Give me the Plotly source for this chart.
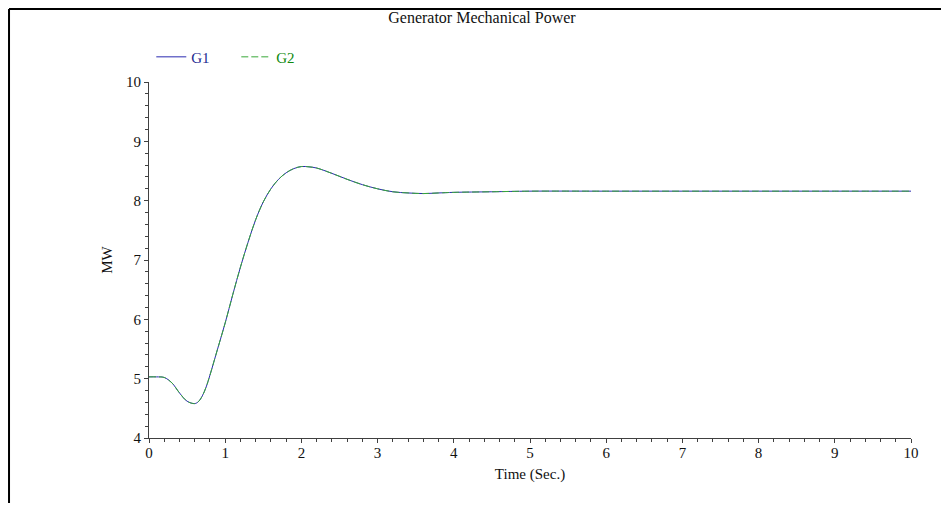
import plotly.graph_objects as go

time_s = [0, 0.1, 0.2, 0.3, 0.4, 0.5, 0.6, 0.65, 0.7, 0.75, 0.8, 0.9, 1.0, 1.1, 1.2, 1.3, 1.4, 1.5,
          1.6, 1.7, 1.8, 1.9, 2.0, 2.1, 2.2, 2.4, 2.6, 2.8, 3.0, 3.2, 3.4, 3.6, 3.8,
          4.0, 4.5, 5, 6, 7, 8, 9, 10]
g1_mw = [5.03, 5.03, 5.02, 4.93, 4.76, 4.62, 4.58, 4.615, 4.71, 4.86, 5.06, 5.50, 5.94, 6.42, 6.88,
         7.30, 7.68, 7.98, 8.20, 8.36, 8.47, 8.54, 8.575, 8.57, 8.55, 8.46, 8.36, 8.27,
         8.20, 8.15, 8.13, 8.12, 8.13, 8.14, 8.15, 8.16, 8.16, 8.16, 8.16, 8.16, 8.16]
g2_mw = [5.03, 5.03, 5.02, 4.93, 4.76, 4.62, 4.58, 4.615, 4.71, 4.86, 5.06, 5.50, 5.94, 6.42, 6.88,
         7.30, 7.68, 7.98, 8.20, 8.36, 8.47, 8.54, 8.575, 8.57, 8.55, 8.46, 8.36, 8.27,
         8.20, 8.15, 8.13, 8.12, 8.13, 8.14, 8.15, 8.16, 8.16, 8.16, 8.16, 8.16, 8.16]

FONT = "Liberation Serif, Times New Roman, serif"

fig = go.Figure()
fig.add_trace(go.Scatter(x=time_s, y=g1_mw, mode="lines",
                         name='<span style="color:#1c2a90">G1</span>',
                         line=dict(color="#2a2ab0", width=1, shape="spline", smoothing=1.0)))
fig.add_trace(go.Scatter(x=time_s, y=g2_mw, mode="lines",
                         name='<span style="color:#108a10">G2</span>',
                         line=dict(color="#38a838", width=1, dash="7px,3px", shape="spline", smoothing=1.0)))

axis_common = dict(showgrid=False, zeroline=False, showline=True, linecolor="#404040",
                   linewidth=1, ticks="outside", ticklen=4, tickcolor="#404040",
                   tickfont=dict(family=FONT, size=15, color="#111"),
                   minor=dict(ticks="outside", ticklen=3, tickcolor="#404040", dtick=0.2))

fig.update_xaxes(range=[0, 10], dtick=1, tick0=0, ticklabelstandoff=-3,
                 title=dict(text="Time (Sec.)", font=dict(family=FONT, size=15, color="#111"), standoff=8),
                 **axis_common)
fig.update_yaxes(range=[4, 10], dtick=1, tick0=4,
                 title=dict(text="MW", font=dict(family=FONT, size=15, color="#111"), standoff=9),
                 **axis_common)

# outer frame of the picture
fig.add_shape(type="line", xref="paper", yref="paper", x0=-0.1837, x1=1.06, y0=1.2051, y1=1.2051,
              line=dict(color="black", width=2))
fig.add_shape(type="line", xref="paper", yref="paper", x0=-0.1837, x1=-0.1837, y0=1.2051, y1=-0.25,
              line=dict(color="black", width=2))

fig.update_layout(
    width=933, height=495,
    margin=dict(l=141, r=30, t=74, b=65),
    paper_bgcolor="white", plot_bgcolor="white",
    title=dict(text="Generator Mechanical Power", x=0.508, xref="container", xanchor="center",
               y=0.982, yref="container", yanchor="middle",
               font=dict(family=FONT, size=16, color="#111")),
    legend=dict(orientation="h", x=0.003, xanchor="left", y=1.07, yanchor="middle",
                entrywidth=40, entrywidthmode="pixels",
                font=dict(family=FONT, size=15), bgcolor="rgba(0,0,0,0)"),
    showlegend=True,
)

fig.write_html("out.html")
